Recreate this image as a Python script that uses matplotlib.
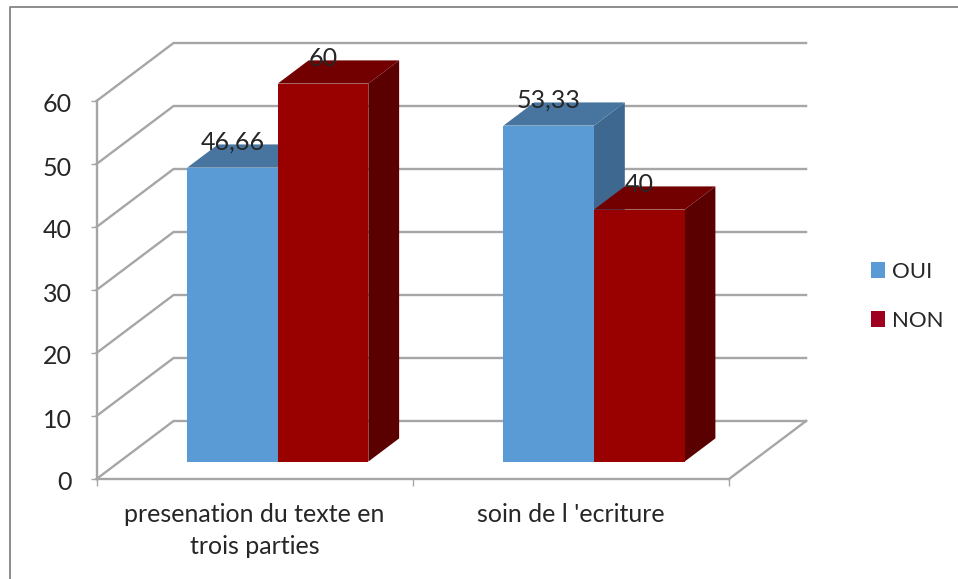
import matplotlib
matplotlib.use("Agg")
import matplotlib.pyplot as plt
from matplotlib.patches import Polygon, Patch
from matplotlib.lines import Line2D
from matplotlib.transforms import ScaledTranslation

categories = ["presenation du texte en\ntrois parties", "soin de l 'ecriture"]
oui = [46.66, 53.33]
non = [60, 40]
oui_labels = ["46,66", "53,33"]
non_labels = ["60", "40"]
yticks = [0, 10, 20, 30, 40, 50, 60]

W, H = 958, 579
plt.rcParams['font.family'] = ['Lato', 'DejaVu Sans']
TXT = '#262626'
GRID = '#A6A6A6'
FS = 18
fig = plt.figure(figsize=(W/100, H/100), dpi=100)
ax = fig.add_axes([96.5/W, 1-479/H, 632.5/W, 378/H])
ax.set_xlim(0, 2)
ax.set_ylim(0, 60)
ax.patch.set_alpha(0)

# depth projection: full depth = (77 px, 58 px)
DX = 77/316
DY = 58/6.3
def P(x, v, z):
    return (x + z*DX, v + z*DY)

lw = 1.7
# walls
for v in yticks:
    ax.plot(*zip(P(0, v, 0), P(0, v, 1), P(2, v, 1)), color=GRID, lw=lw, clip_on=False, zorder=1, solid_joinstyle='miter')
ax.plot(*zip(P(2, 0, 0), P(2, 0, 1)), color=GRID, lw=lw, clip_on=False, zorder=1)

BW = 181/316/2
Z0, Z1 = 0.30, 0.70
def bar(x0, x1, v, front, top, side):
    ax.add_patch(Polygon([P(x1, 0, Z0), P(x1, 0, Z1), P(x1, v, Z1), P(x1, v, Z0)], fc=side, ec='none', clip_on=False, zorder=2))
    ax.add_patch(Polygon([P(x0, v, Z0), P(x1, v, Z0), P(x1, v, Z1), P(x0, v, Z1)], fc=top, ec='none', clip_on=False, zorder=2))
    ax.add_patch(Polygon([P(x0, 0, Z0), P(x1, 0, Z0), P(x1, v, Z0), P(x0, v, Z0)], fc=front, ec='none', clip_on=False, zorder=3))

def label(x, v, s):
    ax.annotate(s, P(x, v, Z0), xytext=(0, 18.3), textcoords='offset points', ha='center', va='center',
                fontsize=FS, color=TXT, annotation_clip=False, zorder=6)

for i in range(2):
    c = i + 0.5
    bar(c-BW, c, oui[i], '#5B9BD5', '#48759F', '#3F6890')
    bar(c, c+BW, non[i], '#990000', '#730000', '#5A0000')
    label(c-BW/2, oui[i], oui_labels[i])
    label(c+BW/2, non[i], non_labels[i])

for s in ('top', 'right'):
    ax.spines[s].set_visible(False)
for s in ('left', 'bottom'):
    ax.spines[s].set_color(GRID)
    ax.spines[s].set_linewidth(lw)
ax.set_yticks(yticks)
ax.set_yticklabels([str(v) for v in yticks], fontsize=FS, color=TXT)
ax.tick_params(axis='y', length=4.3, width=1, color=GRID, pad=13.5)
shift = ScaledTranslation(0, -2/100, fig.dpi_scale_trans)
for t in ax.get_yticklabels():
    t.set_transform(t.get_transform() + shift)
ax.set_xticks([0, 1, 2])
ax.set_xticklabels(['', '', ''])
ax.tick_params(axis='x', which='major', length=5, width=1, color=GRID)
ax.set_xticks([0.5, 1.5], minor=True)
ax.set_xticklabels(categories, minor=True, fontsize=FS, color=TXT, linespacing=1.46, ha='center')
ax.tick_params(axis='x', which='minor', length=0, pad=17.5)

# chart frame
fig.add_artist(Line2D([9.5/W, 9.5/W, 1], [0, 1-6.5/H, 1-6.5/H], color='#8C8C8C', lw=1.4))

handles = [Patch(fc='#5B9BD5', ec='none', label='OUI'), Patch(fc='#A00020', ec='none', label='NON')]
fig.legend(handles=handles, loc='center left', bbox_to_anchor=(871/W, 1-296.5/H), frameon=False,
           fontsize=16, labelcolor=TXT, handlelength=0.63, handleheight=0.75, handletextpad=0.32,
           labelspacing=1.31, borderpad=0, borderaxespad=0)

fig.savefig('out.png', dpi=100)
